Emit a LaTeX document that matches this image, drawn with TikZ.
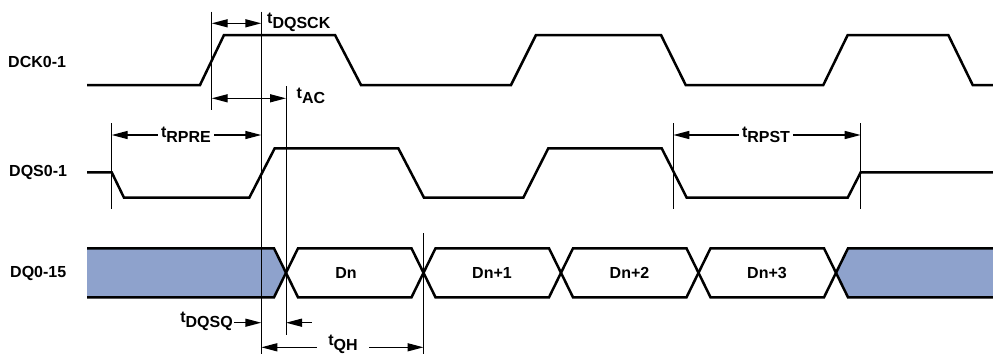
\documentclass[tikz,border=0pt]{standalone}
\usepackage{fontspec}
\setmainfont{Liberation Sans}
\usetikzlibrary{arrows.meta}
\definecolor{busblue}{RGB}{142,162,204}
\newcommand\tdim[1]{t\raisebox{-0.32em}{#1}}
\begin{document}
\begin{tikzpicture}[x=1pt,y=-1pt,
  sig/.style={line width=2.5pt, line join=miter},
  guide/.style={line width=0.9pt},
  dimboth/.style={line width=1.4pt, {Triangle[length=16pt,width=8pt]}-{Triangle[length=16pt,width=8pt]}},
  dimone/.style={line width=1.4pt, -{Triangle[length=16pt,width=8pt]}},
  lbl/.style={font=\fontsize{16}{19}\selectfont\bfseries, inner sep=0pt},
  tlbl/.style={lbl, fill=white, inner xsep=3pt, inner ysep=1pt}]
\useasboundingbox (0,0) rectangle (993,354);

% ---------- signal names ----------
\node[lbl, anchor=west] (ndck) at (8,62) {DCK0-1};
\node[lbl, anchor=west] (ndqs) at (9,172) {DQS0-1};
\node[lbl, anchor=west] (ndq)  at (10,273) {DQ0-15};

% ---------- DCK ----------
\draw[sig] (87,85) -- (200,85) -- (224,35) -- (335,35) -- (361,85) -- (511,85)
  -- (536,35) -- (661,35) -- (685.7,85) -- (823.3,85) -- (847.7,35) -- (948.3,35)
  -- (972.7,85) -- (993,85);

% ---------- DQS ----------
\draw[sig] (87,172.3) -- (111.7,172.3) -- (124,197.7) -- (249.3,197.7) -- (274.7,148.3)
  -- (398.3,148.3) -- (424,197.7) -- (523.3,197.7) -- (548.3,148.3) -- (661.7,148.3)
  -- (686.7,197.7) -- (847.7,197.7) -- (860.7,172.3) -- (993,172.3);

% ---------- DQ ----------
\fill[busblue] (87,248.3) -- (274,248.3) -- (286,272.8) -- (274,297.3) -- (87,297.3) -- cycle;
\draw[sig] (87,248.3) -- (274,248.3) -- (286,272.8) -- (274,297.3) -- (87,297.3);
\fill[busblue] (993,248.3) -- (848,248.3) -- (836,272.8) -- (848,297.3) -- (993,297.3) -- cycle;
\draw[sig] (993,248.3) -- (848,248.3) -- (836,272.8) -- (848,297.3) -- (993,297.3);
\foreach \a/\b in {286/423.5, 423.5/561, 561/698.5, 698.5/836}{
  \draw[sig] (\a,272.8) -- (\a+12,248.3) -- (\b-12,248.3) -- (\b,272.8)
    -- (\b-12,297.3) -- (\a+12,297.3) -- cycle;
}
\node[lbl] (dn)  at (346,273) {Dn};
\node[lbl] (dn1) at (492,273) {Dn+1};
\node[lbl] (dn2) at (629.5,273) {Dn+2};
\node[lbl] (dn3) at (767,273) {Dn+3};

% ---------- guide lines ----------
\coordinate (g1t) at (211.7,11.7);  \coordinate (g1b) at (211.7,110);
\coordinate (g2t) at (261.3,11.7);  \coordinate (g2b) at (261.3,354);
\coordinate (g3t) at (286,86);      \coordinate (g3b) at (286,335);
\coordinate (g4t) at (111.7,123.3); \coordinate (g4b) at (111.7,209.3);
\coordinate (g5t) at (673.3,123.3); \coordinate (g5b) at (673.3,209.3);
\coordinate (g6t) at (860.7,123.3); \coordinate (g6b) at (860.7,209.3);
\coordinate (g7t) at (423.5,233.3); \coordinate (g7b) at (423.5,354);
\foreach \i in {1,...,7}{ \draw[guide] (g\i t) -- (g\i b); }

% ---------- dimensions ----------
% tDQSCK
\draw[dimboth] (211.7,23.3) -- (261.3,23.3);
\node[lbl, anchor=west] (tdqsck) at (267,22.5) {\tdim{DQSCK}};
% tAC
\draw[dimboth] (211.7,98.3) -- (286,98.3);
\node[lbl, anchor=west] (tac) at (296.5,96) {\tdim{AC}};
% tRPRE
\draw[dimboth] (111.7,135) -- (261.3,135);
\node[tlbl] (trpre) at (186,134.5) {\tdim{RPRE}};
% tRPST
\draw[dimboth] (673.3,135) -- (860.7,135);
\node[tlbl] (trpst) at (766,134.5) {\tdim{RPST}};
% tDQSQ
\coordinate (qa) at (234,322.7);
\coordinate (qb) at (311.7,322.7);
\draw[dimone] (qa) -- (261.3,322.7);
\draw[dimone] (qb) -- (286,322.7);
\node[lbl, anchor=east] (tdqsq) at (233,321.5) {\tdim{DQSQ}};
% tQH
\draw[dimboth] (261.3,347.3) -- (423.5,347.3);
\node[tlbl, inner xsep=11pt, inner ysep=0pt] (tqh) at (343,344.5) {\tdim{QH}};
\end{tikzpicture}
\end{document}
